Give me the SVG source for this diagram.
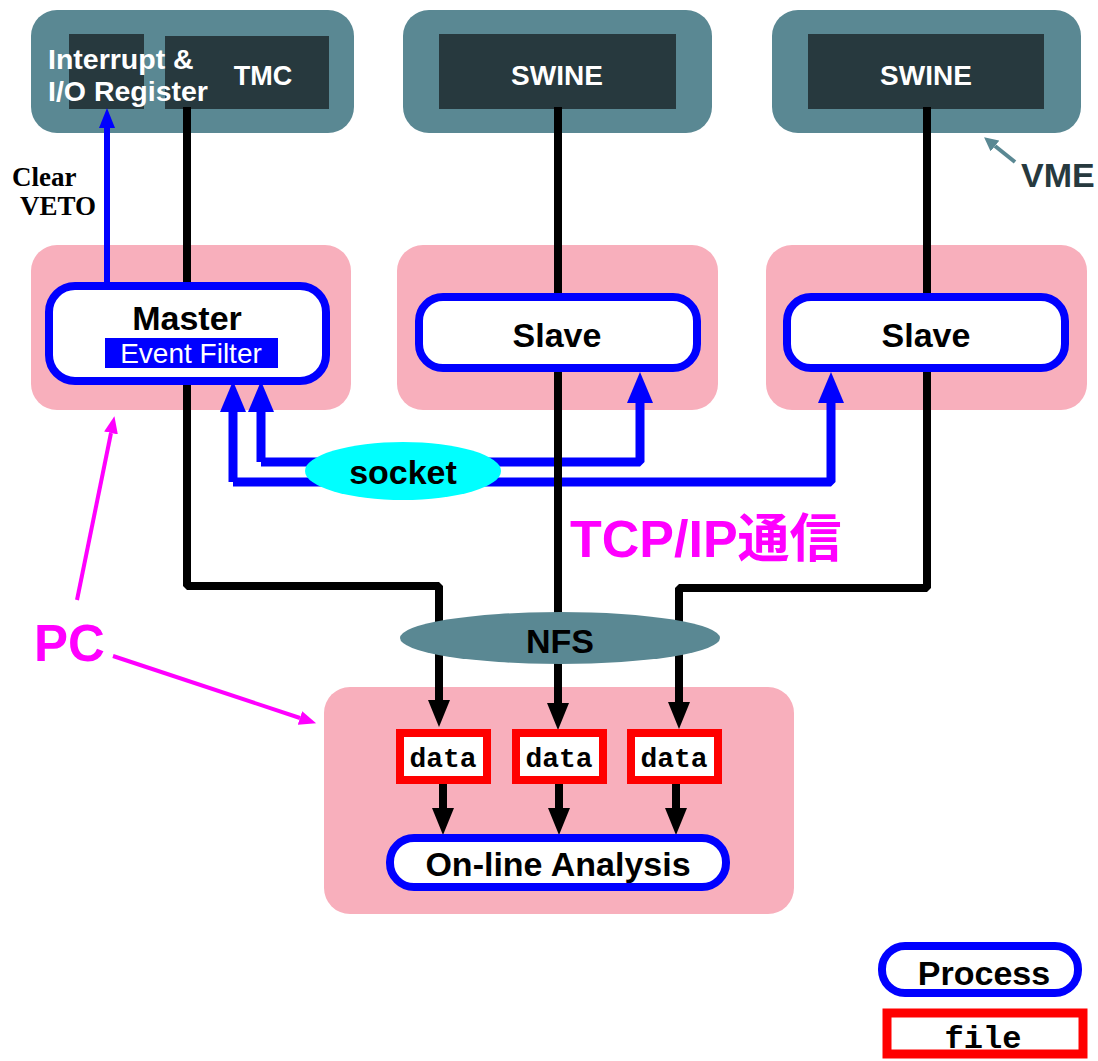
<svg xmlns="http://www.w3.org/2000/svg" width="1098" height="1061" viewBox="0 0 1098 1061">
  <style>
    .vme { fill: #5a8893; }
    .board { fill: #27393e; }
    .pc { fill: #f8afbc; }
    .proc { fill: #ffffff; stroke: #0000ff; stroke-width: 8; }
    .file { fill: #ffffff; stroke: #ff0000; stroke-width: 8; }
    .wire { fill: none; stroke: #000000; stroke-width: 8; stroke-linejoin: bevel; }
    .sock { fill: none; stroke: #0000ff; stroke-width: 9; stroke-linejoin: bevel; }
    .veto { fill: none; stroke: #0000ff; stroke-width: 6; }
    .note { fill: none; stroke: #ff00ff; stroke-width: 4; }
    .vmearrow { fill: none; stroke: #5a8893; stroke-width: 4; }
    .sans { font-family: "Liberation Sans", Arial, sans-serif; font-weight: bold; }
    .mono { font-family: "Liberation Mono", "Courier New", monospace; font-weight: bold; }
    .white { fill: #ffffff; }
    .mid { text-anchor: middle; }
  </style>
  <defs>
    <marker id="ah-black" markerUnits="userSpaceOnUse" markerWidth="28" markerHeight="22" refX="0" refY="11" orient="auto">
      <path d="M0,0 L27,11 L0,22 z" fill="#000000"/>
    </marker>
    <marker id="ah-blue" markerUnits="userSpaceOnUse" markerWidth="32" markerHeight="26" refX="0" refY="13" orient="auto">
      <path d="M0,0 L31,13 L0,26 z" fill="#0000ff"/>
    </marker>
    <marker id="ah-veto" markerUnits="userSpaceOnUse" markerWidth="21" markerHeight="16" refX="0" refY="8" orient="auto">
      <path d="M0,0 L20,8 L0,16 z" fill="#0000ff"/>
    </marker>
    <marker id="ah-pink" markerUnits="userSpaceOnUse" markerWidth="18" markerHeight="14" refX="0" refY="7" orient="auto">
      <path d="M0,0 L17,7 L0,14 z" fill="#ff00ff"/>
    </marker>
    <marker id="ah-teal" markerUnits="userSpaceOnUse" markerWidth="15" markerHeight="14" refX="0" refY="7" orient="auto">
      <path d="M0,0 L14,7 L0,14 z" fill="#5a8893"/>
    </marker>
  </defs>

  <!-- VME crates -->
  <g id="vme-master">
    <rect class="vme" x="31" y="10" width="323" height="123" rx="26"/>
    <rect class="board" x="69" y="34" width="75" height="75"/>
    <rect class="board" x="165" y="36" width="164" height="73"/>
  </g>
  <g id="vme-slave1">
    <rect class="vme" x="403" y="10" width="309" height="123" rx="26"/>
    <rect class="board" x="439" y="34" width="237" height="75"/>
  </g>
  <g id="vme-slave2">
    <rect class="vme" x="772" y="10" width="309" height="123" rx="26"/>
    <rect class="board" x="808" y="34" width="236" height="75"/>
  </g>

  <!-- PCs -->
  <g id="pc-master"><rect class="pc" x="31" y="245" width="320" height="165" rx="26"/></g>
  <g id="pc-slave1"><rect class="pc" x="397" y="245" width="321" height="165" rx="26"/></g>
  <g id="pc-slave2"><rect class="pc" x="766" y="245" width="321" height="165" rx="26"/></g>
  <g id="pc-analysis"><rect class="pc" x="324" y="687" width="470" height="227" rx="26"/></g>

  <!-- Connectors -->
  <g id="connectors">
    <!-- socket links -->
    <path class="sock" d="M261,462 H640 V403" marker-end="url(#ah-blue)"/>
    <path class="sock" d="M233,482 H831 V403" marker-end="url(#ah-blue)"/>
    <path class="sock" d="M261,462 V412" marker-end="url(#ah-blue)"/>
    <path class="sock" d="M233,482 V412" marker-end="url(#ah-blue)"/>
    <!-- clear VETO -->
    <path class="veto" d="M107,284 V128" marker-end="url(#ah-veto)"/>
    <!-- data paths -->
    <path class="wire" d="M187,107 V586 H439 V700" marker-end="url(#ah-black)"/>
    <path class="wire" d="M558,107 V703" marker-end="url(#ah-black)"/>
    <path class="wire" d="M927,107 V588 H679 V702" marker-end="url(#ah-black)"/>
    <path class="wire" d="M443,782 V808" marker-end="url(#ah-black)"/>
    <path class="wire" d="M559,782 V808" marker-end="url(#ah-black)"/>
    <path class="wire" d="M676,782 V808" marker-end="url(#ah-black)"/>
    <!-- annotations -->
    <path class="note" d="M77,600 L111,433" marker-end="url(#ah-pink)"/>
    <path class="note" d="M113,656 L300,718" marker-end="url(#ah-pink)"/>
    <path class="vmearrow" d="M1015,162 L995,146" marker-end="url(#ah-teal)"/>
  </g>

  <!-- Network hubs -->
  <g id="socket">
    <ellipse cx="403" cy="471" rx="98" ry="29" fill="#00ffff"/>
    <text class="sans mid" x="403" y="484" font-size="34">socket</text>
  </g>
  <g id="nfs">
    <ellipse cx="560" cy="638" rx="160" ry="26" fill="#5a8893"/>
    <text class="sans mid" x="560" y="653" font-size="34">NFS</text>
  </g>

  <!-- Processes -->
  <g id="master">
    <rect class="proc" x="49" y="286" width="277" height="95" rx="26"/>
    <text class="sans mid" x="187" y="330" font-size="34">Master</text>
    <rect x="105" y="338" width="173" height="30" fill="#0000ff"/>
    <text class="mid white" x="191" y="363" font-size="28" font-family="Liberation Sans, Arial, sans-serif">Event Filter</text>
  </g>
  <g id="slave1">
    <rect class="proc" x="419" y="297" width="278" height="71" rx="24"/>
    <text class="sans mid" x="557" y="347" font-size="34">Slave</text>
  </g>
  <g id="slave2">
    <rect class="proc" x="787" y="297" width="278" height="71" rx="24"/>
    <text class="sans mid" x="926" y="347" font-size="34">Slave</text>
  </g>
  <g id="analysis">
    <rect class="proc" x="390" y="838" width="336" height="49" rx="24"/>
    <text class="sans mid" x="558" y="876" font-size="34">On-line Analysis</text>
  </g>

  <!-- Data files -->
  <g id="data1">
    <rect class="file" x="400" y="733" width="87" height="47"/>
    <text class="mono mid" x="443" y="767" font-size="28">data</text>
  </g>
  <g id="data2">
    <rect class="file" x="516" y="733" width="87" height="47"/>
    <text class="mono mid" x="559" y="767" font-size="28">data</text>
  </g>
  <g id="data3">
    <rect class="file" x="631" y="733" width="87" height="47"/>
    <text class="mono mid" x="674" y="767" font-size="28">data</text>
  </g>

  <!-- Labels -->
  <g id="labels">
    <text class="sans white" x="48" y="69" font-size="28.5">Interrupt &amp;</text>
    <text class="sans white" x="48" y="101" font-size="28.5">I/O Register</text>
    <text class="sans white mid" x="263" y="85" font-size="27">TMC</text>
    <text class="sans white mid" x="557" y="85" font-size="28">SWINE</text>
    <text class="sans white mid" x="926" y="85" font-size="28">SWINE</text>
    <text x="1021" y="187" font-size="34" class="sans" fill="#27393e">VME</text>
    <text x="12" y="186" font-size="27" font-family="Liberation Serif, 'Times New Roman', serif" font-weight="bold">Clear</text>
    <text x="20" y="215" font-size="27" font-family="Liberation Serif, 'Times New Roman', serif" font-weight="bold">VETO</text>
    <text x="570" y="557" font-size="52" fill="#ff00ff" font-family="Liberation Sans, Arial, 'Noto Sans CJK JP', sans-serif" font-weight="bold">TCP/IP通信</text>
    <text x="34" y="661" font-size="51" class="sans" fill="#ff00ff">PC</text>
  </g>

  <!-- Legend -->
  <g id="legend-process">
    <rect class="proc" x="882" y="946" width="196" height="47" rx="23"/>
    <text class="sans mid" x="984" y="985" font-size="34">Process</text>
  </g>
  <g id="legend-file">
    <rect class="file" x="887" y="1013" width="196" height="41" style="stroke-width:9"/>
    <text class="mono mid" x="983" y="1048" font-size="32">file</text>
  </g>
</svg>
